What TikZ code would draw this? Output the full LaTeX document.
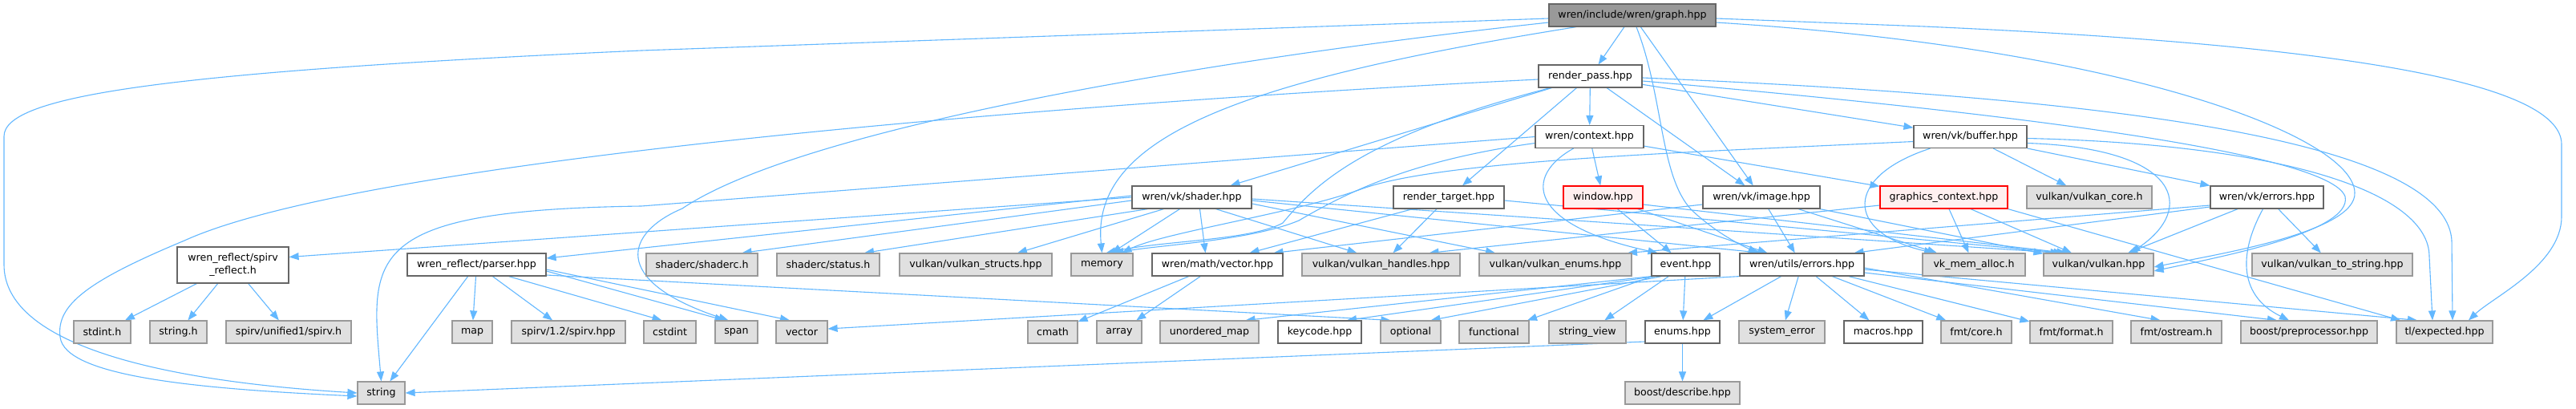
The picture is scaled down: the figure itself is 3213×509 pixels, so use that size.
\documentclass[tikz,border=0pt]{standalone}
\usepackage{fontspec}
\setmainfont{DejaVu Sans}
\usetikzlibrary{arrows.meta}
\definecolor{edgec}{HTML}{63B8FF}
\definecolor{nodeb}{HTML}{666666}
\definecolor{extb}{HTML}{999999}
\definecolor{extf}{HTML}{E0E0E0}
\definecolor{rootf}{HTML}{999999}
\definecolor{redf}{HTML}{FFF0F0}
\definecolor{redb}{HTML}{FF0000}
\pgfdeclarelayer{bglayer}
\pgfdeclarelayer{edgelayer}
\pgfsetlayers{bglayer,edgelayer,main}
\tikzset{
  box/.style={draw=nodeb, line width=1.2pt, fill=white, rectangle, minimum height=28pt, inner sep=0pt, font=\fontsize{12.6}{16}\selectfont, text=black},
  ext/.style={box, draw=extb, fill=extf},
  rootbox/.style={box, fill=rootf},
  redbox/.style={box, draw=redb, fill=redf},
  dep/.style={draw=edgec, line width=1.1pt, -{Triangle[length=12pt,width=9pt]}},
}
\begin{document}
\begin{tikzpicture}[x=1pt,y=-1pt]
\begin{pgfonlayer}{bglayer}
\fill[white] (0,0) rectangle (3213,509);
\end{pgfonlayer}
\useasboundingbox (0,0) rectangle (3213,509);
% row 0
\node[rootbox, minimum width=208pt] (graph) at (2036,19) {wren/include/wren/graph.hpp};
% row 1
\node[box, minimum width=129pt] (rpass) at (1983.5,95) {render\_pass.hpp};
% row 2
\node[box, minimum width=135pt] (ctx) at (1982.5,170.5) {wren/context.hpp};
\node[box, minimum width=141pt] (buffer) at (2457.5,170.5) {wren/vk/buffer.hpp};
% row 3
\node[box, minimum width=149pt] (shader) at (1486.5,246) {wren/vk/shader.hpp};
\node[box, minimum width=138pt] (rtarget) at (1807,246) {render\_target.hpp};
\node[redbox, minimum width=99pt] (window) at (1999.5,246) {window.hpp};
\node[box, minimum width=146pt] (image) at (2197,246) {wren/vk/image.hpp};
\node[redbox, minimum width=159pt] (gctx) at (2424.5,246) {graphics\_context.hpp};
\node[ext, minimum width=156pt] (vkcore) at (2606,246) {vulkan/vulkan\_core.h};
\node[box, minimum width=141pt] (vkerrors) at (2827.5,246) {wren/vk/errors.hpp};
% row 4
\node[box, minimum width=139pt, minimum height=45pt, align=center] (spirvr) at (290.5,330.5) {wren\_reflect/spirv\\\_reflect.h};
\node[box, minimum width=173pt] (parser) at (594.5,330) {wren\_reflect/parser.hpp};
\node[ext, minimum width=139pt] (shaderc) at (875.5,330) {shaderc/shaderc.h};
\node[ext, minimum width=128pt] (status) at (1033,330) {shaderc/status.h};
\node[ext, minimum width=190pt] (structs) at (1217,330) {vulkan/vulkan\_structs.hpp};
\node[ext, minimum width=77pt] (memory) at (1374.5,330) {memory};
\node[box, minimum width=163pt] (mvector) at (1518.5,330) {wren/math/vector.hpp};
\node[ext, minimum width=197pt] (handles) at (1722.5,330) {vulkan/vulkan\_handles.hpp};
\node[ext, minimum width=190pt] (enumsvk) at (1940,330) {vulkan/vulkan\_enums.hpp};
\node[box, minimum width=85pt] (event) at (2102.5,330) {event.hpp};
\node[box, minimum width=155pt] (uerrors) at (2247.5,330) {wren/utils/errors.hpp};
\node[ext, minimum width=128pt] (vma) at (2462,330) {vk\_mem\_alloc.h};
\node[ext, minimum width=137pt] (vkhpp) at (2617.5,330) {vulkan/vulkan.hpp};
\node[ext, minimum width=200pt] (tostring) at (2909,330) {vulkan/vulkan\_to\_string.hpp};
% row 5
\node[ext, minimum width=71pt] (stdint) at (127.5,414) {stdint.h};
\node[ext, minimum width=71pt] (stringh) at (222.5,414) {string.h};
\node[ext, minimum width=156pt] (spirvh) at (360,414) {spirv/unified1/spirv.h};
\node[ext, minimum width=50pt] (map) at (589,414) {map};
\node[ext, minimum width=142pt] (spirvhpp) at (709,414) {spirv/1.2/spirv.hpp};
\node[ext, minimum width=65pt] (cstdint) at (835.5,414) {cstdint};
\node[ext, minimum width=53pt] (span) at (918.5,414) {span};
\node[ext, minimum width=64pt] (vector) at (1000,414) {vector};
\node[ext, minimum width=62pt] (cmath) at (1313,414) {cmath};
\node[ext, minimum width=56pt] (array) at (1396,414) {array};
\node[ext, minimum width=123pt] (umap) at (1508.5,414) {unordered\_map};
\node[box, minimum width=104pt] (keycode) at (1646,414) {keycode.hpp};
\node[ext, minimum width=75pt] (optional) at (1759.5,414) {optional};
\node[ext, minimum width=87pt] (functional) at (1863.5,414) {functional};
\node[ext, minimum width=96pt] (sview) at (1980,414) {string\_view};
\node[box, minimum width=93pt] (enumshpp) at (2098.5,414) {enums.hpp};
\node[ext, minimum width=107pt] (syserr) at (2222.5,414) {system\_error};
\node[box, minimum width=98pt] (macros) at (2349,414) {macros.hpp};
\node[ext, minimum width=88pt] (fmtcore) at (2465,414) {fmt/core.h};
\node[ext, minimum width=103pt] (fmtformat) at (2583.5,414) {fmt/format.h};
\node[ext, minimum width=113pt] (fmtostream) at (2714.5,414) {fmt/ostream.h};
\node[ext, minimum width=170pt] (boostpp) at (2880,414) {boost/preprocessor.hpp};
\node[ext, minimum width=120pt] (tlexp) at (3049,414) {tl/expected.hpp};
% row 6
\node[ext, minimum width=59pt] (string) at (475.5,490) {string};
\node[ext, minimum width=143pt] (describe) at (2098.5,490) {boost/describe.hpp};

\begin{pgfonlayer}{edgelayer}
% graph.hpp
\draw[dep] ([yshift=-4pt]graph.west) -- (800,63) .. controls (200,90) and (5,120) .. (5,170) -- (5,330) .. controls (5,430) and (200,475) .. (string.west);
\draw[dep] ([yshift=-9pt]graph.west) .. controls (1500,75) and (1000,160) .. (851,260) .. controls (780,290) and (760,350) .. ([xshift=-10pt]span.north);
\draw[dep] ([xshift=-70pt]graph.south) .. controls (1550,100) and (1360,170) .. (memory.north);
\draw[dep] (graph) -- (rpass);
\draw[dep] ([xshift=5pt]graph.south) .. controls (2075,120) and (2070,220) .. (2110,262) .. controls (2140,290) and (2170,305) .. ([xshift=-55pt]uerrors.north);
\draw[dep] (graph) -- (image);
\draw[dep] ([yshift=-9pt]graph.east) .. controls (2650,60) and (2935,170) .. (2937,240) .. controls (2940,290) and (2760,318) .. ([yshift=-3pt]vkhpp.east);
\draw[dep] ([yshift=-4pt]graph.east) -- (2400,33) .. controls (2900,55) and (3195,100) .. (3195,180) -- (3195,270) .. controls (3195,330) and (3110,370) .. ([xshift=30pt]tlexp.north);
% render_pass.hpp
\draw[dep] ([yshift=-4pt]rpass.west) .. controls (1300,130) and (450,200) .. (230,300) .. controls (110,350) and (70,380) .. (75,420) .. controls (80,470) and (250,485) .. ([yshift=-4pt]string.west);
\draw[dep] (rpass) -- (shader);
\draw[dep] ([xshift=-50pt]rpass.south) .. controls (1700,170) and (1640,230) .. (1600,278) .. controls (1560,300) and (1450,300) .. ([xshift=5pt]memory.north);
\draw[dep] (rpass) -- (rtarget);
\draw[dep] (rpass) -- (ctx);
\draw[dep] (rpass) -- (image);
\draw[dep] (rpass) -- (buffer);
\draw[dep] ([yshift=-6pt]rpass.east) .. controls (2500,140) and (2905,190) .. (2925,245) .. controls (2935,290) and (2760,322) .. ([yshift=-8pt]vkhpp.east);
\draw[dep] ([yshift=-2pt]rpass.east) .. controls (2600,120) and (3050,170) .. (3058,300) -- ([xshift=10pt]tlexp.north);
% context.hpp
\draw[dep] (ctx.west) -- (800,257) .. controls (450,262) and (462,320) .. (string.north);
\draw[dep] ([yshift=-8pt]ctx.west) .. controls (1760,200) and (1680,240) .. (1620,275) .. controls (1560,300) and (1450,305) .. ([xshift=15pt]memory.north);
\draw[dep] ([xshift=-20pt]ctx.south) .. controls (1900,220) and (1905,280) .. ([xshift=-35pt]event.north);
\draw[dep] (ctx) -- (window);
\draw[dep] (ctx) -- (gctx);
% buffer.hpp
\draw[dep] ([yshift=-6pt]buffer.west) .. controls (2100,190) and (1800,200) .. (1700,235) .. controls (1620,265) and (1450,290) .. ([xshift=25pt]memory.north);
\draw[dep] ([xshift=-50pt]buffer.south) .. controls (2300,220) and (2300,290) .. ([xshift=-50pt]vma.north);
\draw[dep] (buffer) -- (vkcore);
\draw[dep] (buffer) -- (vkerrors);
\draw[dep] ([yshift=-8pt]buffer.east) .. controls (2720,185) and (2740,260) .. ([xshift=40pt]vkhpp.north);
\draw[dep] ([yshift=-2pt]buffer.east) .. controls (2850,180) and (3030,240) .. (3030,320) -- ([xshift=-15pt]tlexp.north);
% shader.hpp
\draw[dep] (shader.west) -- ([yshift=10pt]spirvr.east);
\draw[dep] ([yshift=2pt]shader.west) -- ([yshift=8pt]parser.east);
\draw[dep] ([yshift=-4pt]shader.west) -- ([xshift=50pt]shaderc.north);
\draw[dep] ([xshift=-55pt]shader.south) -- ([xshift=45pt]status.north);
\draw[dep] ([xshift=-35pt]shader.south) -- ([xshift=52pt]structs.north);
\draw[dep] ([xshift=-15pt]shader.south) -- ([xshift=12pt]memory.north);
\draw[dep] ([xshift=10pt]shader.south) -- ([xshift=-15pt]mvector.north);
\draw[dep] ([xshift=30pt]shader.south) -- ([xshift=-30pt]handles.north);
\draw[dep] ([yshift=-8pt]shader.east) -- ([xshift=-75pt]enumsvk.north);
\draw[dep] ([yshift=-4pt]shader.east) -- ([xshift=-50pt]uerrors.north);
\draw[dep] ([yshift=-2pt]shader.east) -- ([xshift=-48pt]vkhpp.north);
% render_target.hpp
\draw[dep] ([xshift=-45pt]rtarget.south) -- ([xshift=40pt]mvector.north);
\draw[dep] ([xshift=-15pt]rtarget.south) -- ([xshift=15pt]handles.north);
\draw[dep] ([yshift=-4pt]rtarget.east) -- ([xshift=-44pt]vkhpp.north);
% window.hpp
\draw[dep] (window) -- (event);
\draw[dep] (window) -- (uerrors);
\draw[dep] ([yshift=-9pt]window.east) -- ([xshift=-40pt]vkhpp.north);
% image.hpp
\draw[dep] ([yshift=-9pt]image.west) -- ([xshift=70pt]mvector.north);
\draw[dep] (image) -- (uerrors);
\draw[dep] (image) -- (vma);
\draw[dep] (image) -- (vkhpp);
% graphics_context.hpp
\draw[dep] ([yshift=-10pt]gctx.west) -- ([xshift=60pt]handles.north);
\draw[dep] (gctx) -- (vma);
\draw[dep] (gctx) -- (vkhpp);
\draw[dep] (gctx.south east) -- ([xshift=-55pt]tlexp.north);
% vk/errors.hpp
\draw[dep] ([yshift=-10pt]vkerrors.west) -- ([xshift=90pt]enumsvk.north);
\draw[dep] ([yshift=-12pt]vkerrors.west) -- ([xshift=65pt]uerrors.north);
\draw[dep] (vkerrors) -- (vkhpp);
\draw[dep] ([xshift=-5pt]vkerrors.south) .. controls (2790,320) and (2795,370) .. ([xshift=-25pt]boostpp.north);
\draw[dep] (vkerrors) -- (tostring);
% spirv_reflect.h
\draw[dep] (spirvr) -- (stdint);
\draw[dep] (spirvr) -- (stringh);
\draw[dep] (spirvr) -- (spirvh);
% parser.hpp
\draw[dep] (parser) -- (string);
\draw[dep] (parser) -- (map);
\draw[dep] (parser) -- (spirvhpp);
\draw[dep] ([xshift=40pt]parser.south) -- ([xshift=-10pt]cstdint.north);
\draw[dep] ([yshift=-8pt]parser.east) -- ([xshift=-15pt]span.north);
\draw[dep] ([yshift=-6pt]parser.east) -- ([xshift=-15pt]vector.north);
\draw[dep] ([yshift=-13pt]parser.east) -- ([xshift=-25pt]optional.north);
% math/vector.hpp
\draw[dep] (mvector) -- (cmath);
\draw[dep] (mvector) -- (array);
% event.hpp
\draw[dep] (event.south west) -- ([xshift=45pt]umap.north);
\draw[dep] ([xshift=-38pt]event.south) -- ([xshift=34pt]keycode.north);
\draw[dep] ([xshift=-30pt]event.south) -- ([xshift=25pt]optional.north);
\draw[dep] (event) -- (functional);
\draw[dep] (event) -- (sview);
\draw[dep] (event) -- (enumshpp);
% utils/errors.hpp
\draw[dep] (uerrors.south west) -- ([yshift=4pt]vector.east);
\draw[dep] (uerrors) -- (enumshpp);
\draw[dep] (uerrors) -- (syserr);
\draw[dep] (uerrors) -- (macros);
\draw[dep] (uerrors) -- (fmtcore);
\draw[dep] (uerrors) -- (fmtformat);
\draw[dep] ([yshift=-4pt]uerrors.east) -- ([xshift=-20pt]fmtostream.north);
\draw[dep] ([yshift=-10pt]uerrors.east) -- ([xshift=-40pt]boostpp.north);
\draw[dep] ([yshift=-6pt]uerrors.east) -- ([xshift=-34pt]tlexp.north);
% enums.hpp
\draw[dep] ([yshift=-12pt]enumshpp.west) -- (string.east);
\draw[dep] (enumshpp) -- (describe);
\end{pgfonlayer}
\end{tikzpicture}
\end{document}
